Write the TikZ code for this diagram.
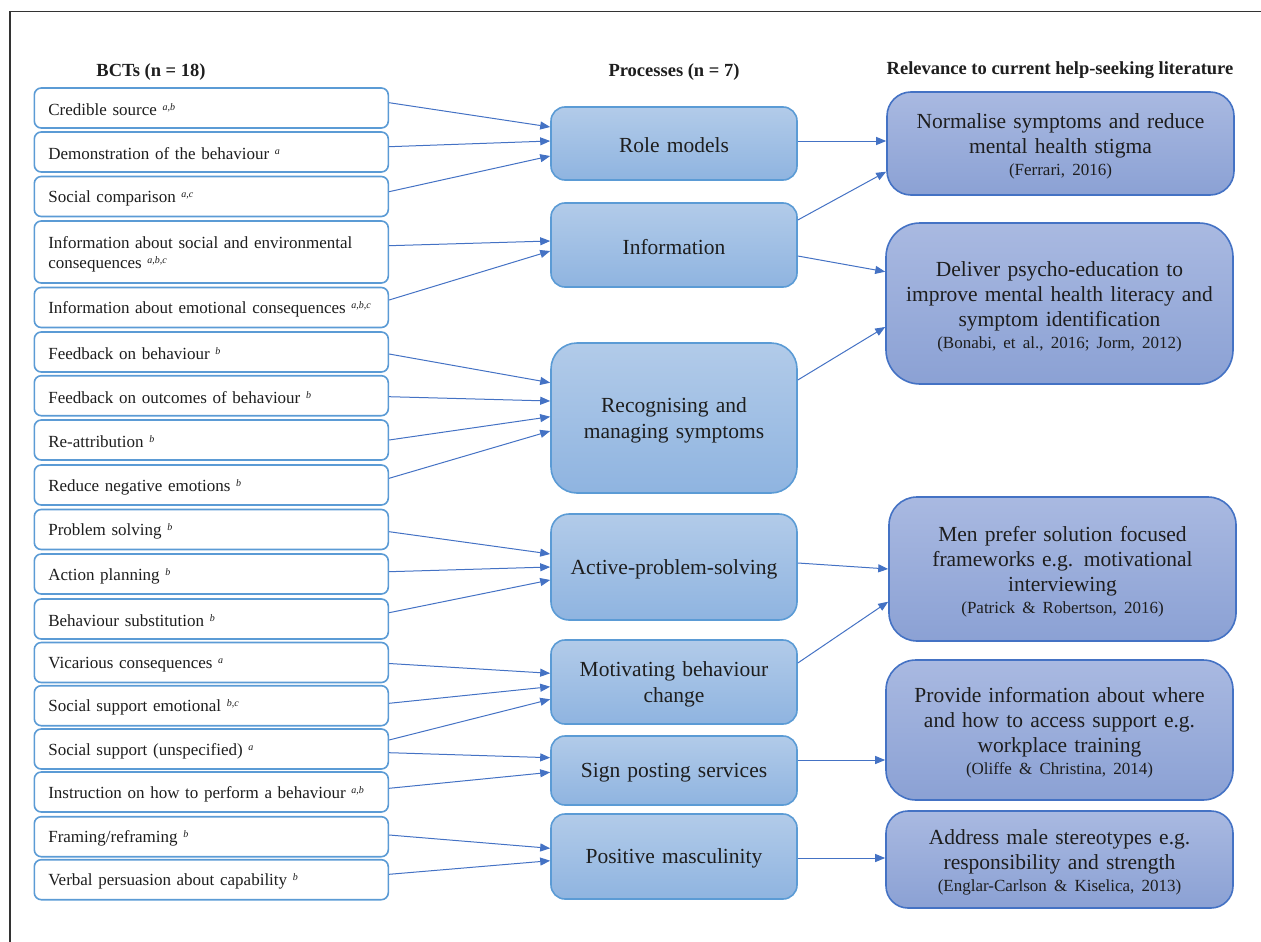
\documentclass[tikz,border=0pt]{standalone}
\usepackage{fontspec}
\setmainfont{Liberation Serif}
\usetikzlibrary{arrows.meta}
\definecolor{bctline}{HTML}{5B9BD5}
\definecolor{arrline}{HTML}{4472C4}
\definecolor{proctop}{HTML}{B2CBE9}
\definecolor{procbot}{HTML}{8FB4E0}
\definecolor{reltop}{HTML}{A9B9E1}
\definecolor{relbot}{HTML}{8BA1D4}
\definecolor{txt}{HTML}{1E1E1E}
\newcommand{\sps}[1]{\raisebox{5pt}{\fontsize{10}{10}\selectfont\itshape #1}}
\newcommand{\citefont}{\fontsize{17}{22}\selectfont}

\begin{document}
\begin{tikzpicture}[x=1pt,y=-1pt,
    bct/.style={draw=bctline,line width=1.6pt,fill=white,rounded corners=7pt,anchor=west,
      minimum width=354pt,minimum height=40pt,text width=326pt,inner xsep=14pt,inner ysep=0pt,
      align=left,font=\fontsize{17}{20}\selectfont,text=txt,text height=16pt},
    proc/.style={draw=bctline,line width=1.6pt,top color=proctop,bottom color=procbot,
      rounded corners=#1,minimum width=246pt,text width=230pt,align=center,
      font=\fontsize{21.5}{26}\selectfont,text=txt,text height=19pt},
    proc/.default=14pt,
    rel/.style={draw=arrline,line width=1.6pt,top color=reltop,bottom color=relbot,
      rounded corners=#1,minimum width=347pt,text width=330pt,align=center,
      font=\fontsize{21.5}{25}\selectfont,text=txt,text height=21pt},
    rel/.default=24pt,
    head/.style={font=\fontsize{18.5}{22}\selectfont\bfseries,text=txt},
    link/.style={draw=arrline,line width=1pt,-{Triangle[length=10pt,width=8pt]}}]
  \useasboundingbox (0,0) rectangle (1261,942);
  \draw[line width=1.7pt,black!80] (10,942) -- (10,11.5) -- (1261,11.5);

  \node[head] (bcthead)  at (151,72)  {BCTs (n = 18)};
  \node[head] (prochead) at (674,72)  {Processes (n = 7)};
  \node[head] (relhead)  at (1060,70) {Relevance to current help-seeking literature};

  \node[bct] (cred)     at (33.5,108)   {Credible source \sps{a,b}};
  \node[bct] (demo)     at (33.5,152)   {Demonstration of the behaviour \sps{a}};
  \node[bct] (soccomp)  at (33.5,196.5) {Social comparison \sps{a,c}};
  \node[bct,minimum height=62pt] (infosoc) at (33.5,252)
    {Information about social and environmental\\consequences \sps{a,b,c}};
  \node[bct] (infoemo)  at (33.5,307.5) {Information about emotional consequences \sps{a,b,c}};
  \node[bct] (fbbeh)    at (33.5,352)   {Feedback on behaviour \sps{b}};
  \node[bct] (fbout)    at (33.5,395.7) {Feedback on outcomes of behaviour \sps{b}};
  \node[bct] (reattr)   at (33.5,440)   {Re-attribution \sps{b}};
  \node[bct] (redneg)   at (33.5,485)   {Reduce negative emotions \sps{b}};
  \node[bct] (probsolv) at (33.5,529.5) {Problem solving \sps{b}};
  \node[bct] (actplan)  at (33.5,574)   {Action planning \sps{b}};
  \node[bct] (behsub)   at (33.5,619)   {Behaviour substitution \sps{b}};
  \node[bct] (vicar)    at (33.5,662.5) {Vicarious consequences \sps{a}};
  \node[bct] (ssemo)    at (33.5,705.7) {Social support emotional \sps{b,c}};
  \node[bct] (ssuns)    at (33.5,749)   {Social support (unspecified) \sps{a}};
  \node[bct] (instr)    at (33.5,792)   {Instruction on how to perform a behaviour \sps{a,b}};
  \node[bct] (framing)  at (33.5,836.7) {Framing/reframing \sps{b}};
  \node[bct] (verbal)   at (33.5,879.7) {Verbal persuasion about capability \sps{b}};

  \node[proc,minimum height=73pt]      (role)    at (674,143.5) {Role models};
  \node[proc,minimum height=84pt]      (info)    at (674,245)   {Information};
  \node[proc=26pt,minimum height=150pt] (recog)  at (674,418)   {Recognising and\\managing symptoms};
  \node[proc=18pt,minimum height=106pt] (active) at (674,567)   {Active-problem-solving};
  \node[proc,minimum height=84pt]      (motiv)   at (674,682)   {Motivating behaviour\\change};
  \node[proc,minimum height=69pt]      (sign)    at (674,770.5) {Sign posting services};
  \node[proc,minimum height=85pt]      (posmasc) at (674,856.5) {Positive masculinity};

  \node[rel,minimum height=103pt]      (normal)  at (1060.5,143.5)
    {Normalise symptoms and reduce\\mental health stigma\\\citefont (Ferrari, 2016)\par};
  \node[rel=34pt,minimum height=161pt] (deliver) at (1059.5,303.5)
    {Deliver psycho-education to\\improve mental health literacy and\\symptom identification\\\citefont (Bonabi, et al., 2016; Jorm, 2012)\par};
  \node[rel=28pt,minimum height=144pt] (menpref) at (1062.5,569)
    {Men prefer solution focused\\frameworks e.g. motivational\\interviewing\\\citefont (Patrick \& Robertson, 2016)\par};
  \node[rel=30pt,minimum height=140pt] (provide) at (1059.5,730)
    {Provide information about where\\and how to access support e.g.\\workplace training\\\citefont (Oliffe \& Christina, 2014)\par};
  \node[rel=22pt,minimum height=97pt]  (address) at (1059.5,859.5)
    {Address male stereotypes e.g.\\responsibility and strength\\\citefont (Englar-Carlson \& Kiselica, 2013)\par};

  \draw[link] ([yshift=5.3pt]cred.east)     -- ([yshift=16.5pt]role.west);
  \draw[link] ([yshift=5.3pt]demo.east)     -- ([yshift=2.5pt]role.west);
  \draw[link] ([yshift=4.8pt]soccomp.east)  -- ([yshift=-12.5pt]role.west);
  \draw[link] ([yshift=6.3pt]infosoc.east)  -- ([yshift=4pt]info.west);
  \draw[link] ([yshift=7.5pt]infoemo.east)  -- ([yshift=-6pt]info.west);
  \draw[link] ([yshift=-2pt]fbbeh.east)     -- ([yshift=35.3pt]recog.west);
  \draw[link] ([yshift=-1pt]fbout.east)     -- ([yshift=17pt]recog.west);
  \draw[link] (reattr.east)                 -- ([yshift=1.3pt]recog.west);
  \draw[link] ([yshift=6.7pt]redneg.east)   -- ([yshift=-13pt]recog.west);
  \draw[link] ([yshift=-2.2pt]probsolv.east) -- ([yshift=13pt]active.west);
  \draw[link] ([yshift=2.3pt]actplan.east)  -- (active.west);
  \draw[link] ([yshift=6.3pt]behsub.east)   -- ([yshift=-13pt]active.west);
  \draw[link] ([yshift=-1pt]vicar.east)     -- ([yshift=8.7pt]motiv.west);
  \draw[link] ([yshift=2.4pt]ssemo.east)    -- ([yshift=-4.7pt]motiv.west);
  \draw[link] ([yshift=9pt]ssuns.east)      -- ([yshift=-17.3pt]motiv.west);
  \draw[link] ([yshift=-3.7pt]ssuns.east)   -- ([yshift=12.8pt]sign.west);
  \draw[link] ([yshift=3.7pt]instr.east)    -- ([yshift=-1.8pt]sign.west);
  \draw[link] ([yshift=1.7pt]framing.east)  -- ([yshift=8.2pt]posmasc.west);
  \draw[link] ([yshift=5.4pt]verbal.east)   -- ([yshift=-4.2pt]posmasc.west);

  \draw[link] ([yshift=2.5pt]role.east)     -- ([yshift=2.5pt]normal.west);
  \draw[link] ([yshift=25pt]info.east)      -- ([yshift=-28.2pt]normal.west);
  \draw[link] ([yshift=-11pt]info.east)     -- ([yshift=31.8pt]deliver.west);
  \draw[link] ([yshift=38pt]recog.east)     -- ([yshift=-23.5pt]deliver.west);
  \draw[link] ([yshift=4pt]active.east)     -- (menpref.west);
  \draw[link] ([yshift=19pt]motiv.east)     -- ([yshift=-32.7pt]menpref.west);
  \draw[link] ([yshift=10.5pt]sign.east)    -- ([yshift=-30pt]provide.west);
  \draw[link] ([yshift=-1.5pt]posmasc.east) -- ([yshift=1.5pt]address.west);
\end{tikzpicture}
\end{document}
